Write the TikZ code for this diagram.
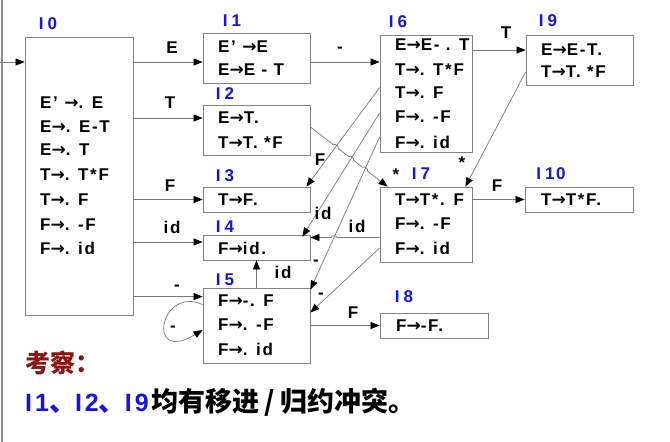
\documentclass[tikz,border=0pt]{standalone}
\usepackage{fontspec}
\setmainfont{Liberation Sans}[LetterSpace=10]
\newfontfamily\arrfont{DejaVu Sans}
\newfontfamily\cjkfont{Noto Sans CJK SC}
\newfontfamily\latfont{Liberation Sans}
\newcommand\ra{{\arrfont\bfseries →}}
\usetikzlibrary{arrows.meta,calc,intersections}
\definecolor{lineg}{RGB}{120,120,120}
\definecolor{boxg}{RGB}{130,130,130}
\definecolor{lblue}{RGB}{20,20,230}
\definecolor{dred}{RGB}{140,20,20}
\begin{document}
\begin{tikzpicture}[x=1pt,y=-1pt,
 box/.style={draw=boxg, line width=0.8pt, inner sep=0pt},
 item/.style={anchor=west, font=\bfseries\fontsize{17}{17}\selectfont, inner sep=0pt},
 lab/.style={font=\bfseries\fontsize{17}{17}\selectfont, text=lblue, inner sep=0pt},
 elab/.style={font=\bfseries\fontsize{17}{17}\selectfont, inner sep=0pt},
 arr/.style={draw=lineg, line width=0.7pt, -{Triangle[length=9pt,width=7pt,color=black]}}]
\fill[white] (0,0) rectangle (670,442);
\useasboundingbox (0,0) rectangle (670,442);
\draw[black!45, line width=1.5pt] (2,0) -- (2,442);

% boxes
\node[box, minimum width=108pt, minimum height=278pt] (I0) at (79,176) {};
\node[box, minimum width=107pt, minimum height=50pt] (I1) at (256.5,58) {};
\node[box, minimum width=107pt, minimum height=50pt] (I2) at (256.5,130) {};
\node[box, minimum width=107pt, minimum height=25pt] (I3) at (256.5,199.5) {};
\node[box, minimum width=107pt, minimum height=25pt] (I4) at (256.5,247.5) {};
\node[box, minimum width=107pt, minimum height=75pt] (I5) at (256.5,325.5) {};
\node[box, minimum width=92pt, minimum height=117pt] (I6) at (426,93.5) {};
\node[box, minimum width=107pt, minimum height=50pt] (I9) at (579.5,60) {};
\node[box, minimum width=92pt, minimum height=75pt] (I7) at (426,224.5) {};
\node[box, minimum width=108pt, minimum height=25pt] (I10) at (579,199.5) {};
\node[box, minimum width=108pt, minimum height=25pt] (I8) at (434,325.5) {};

% box labels
\node[lab] (n0) at (48,24) {I\kern4pt0};
\node[lab] (n1) at (232,21) {I\kern4pt1};
\node[lab] (n2) at (225,94) {I\kern4pt2};
\node[lab] (n3) at (225,176) {I\kern4pt3};
\node[lab] (n4) at (225,227) {I\kern4pt4};
\node[lab] (n5) at (225,280) {I\kern4pt5};
\node[lab] (n6) at (398,22) {I\kern4pt6};
\node[lab] (n9) at (548,21) {I\kern4pt9};
\node[lab] (n7) at (421,174) {I\kern4pt7};
\node[lab] (n10) at (551,174) {I\kern4pt10};
\node[lab] (n8) at (404,297) {I\kern4pt8};

% items
\foreach \t/\y [count=\k] in {E' \ra. E/103, E\ra. E-T/127, E\ra. T/150, T\ra. T*F/175, T\ra. F/200, F\ra. -F/225, F\ra. id/248}
  \node[item] (a0\k) at (40,\y) {\t};
\node[item] (a11) at (218,47) {E' \ra E};
\node[item] (a12) at (218,70) {E\ra E - T};
\node[item] (a21) at (218,118) {E\ra T.};
\node[item] (a22) at (218,143) {T\ra T. *F};
\node[item] (a31) at (218,200) {T\ra F.};
\node[item] (a41) at (218,248) {F\ra id.};
\node[item] (a51) at (218,301) {F\ra -. F};
\node[item] (a52) at (218,325) {F\ra. -F};
\node[item] (a53) at (218,349) {F\ra. id};
\foreach \t/\y [count=\k] in {E\ra E- . T/45, T\ra. T*F/70, T\ra. F/93, F\ra. -F/117, F\ra. id/142}
  \node[item] (a6\k) at (395,\y) {\t};
\node[item] (a91) at (541,50) {E\ra E-T.};
\node[item] (a92) at (541,72) {T\ra T. *F};
\node[item] (a71) at (395,200) {T\ra T*. F};
\node[item] (a72) at (395,224) {F\ra. -F};
\node[item] (a73) at (395,248) {F\ra. id};
\node[item] (a101) at (541,200) {T\ra T*F.};
\node[item] (a81) at (396,326) {F\ra -F.};

% entry arrow
\coordinate (entry) at (0,62);
\draw[arr] (entry) -- (entry -| I0.west);

% arrows from I0
\coordinate (I1in) at ([yshift=-4pt]I1.west);
\draw[arr] (I0.east |- I1in) -- (I1in);
\coordinate (I2in) at ([yshift=12pt]I2.west);
\draw[arr] (I0.east |- I2in) -- (I2in);
\draw[arr] (I0.east |- I3.west) -- (I3.west);
\coordinate (I4in) at ([yshift=5.5pt]I4.west);
\draw[arr] (I0.east |- I4in) -- (I4in);
\coordinate (I5in) at ([yshift=-9pt]I5.north west);
\draw[arr] (I0.east |- I5in) -- (I5in);
% self loop
\draw[arr] ([yshift=-17pt]I5.north west) .. controls (160,285) and (145,365) .. ([yshift=-4.5pt]I5.west);
% I5 -> I4
\draw[arr] (I5.north) -- (I4.south);
% I1 -> I6
\draw[arr] (I1.east |- I1in) -- (I1in -| I6.west);
% I6 -> I9
\coordinate (I9in) at ([yshift=10pt]I9.west);
\draw[arr] (I6.east |- I9in) -- (I9in);
% I9 -> I7
\draw[arr] ([yshift=-12pt]I9.west) -- ([xshift=-7pt]I7.north east);
% I7 -> I10
\draw[arr] (I7.east |- I10.west) -- (I10.west);
% I5 -> I8
\draw[arr] (I5.east |- I8.west) -- (I8.west);
% I6 -> I3, I4, I5
\draw[arr, name path=l63] ([yshift=6pt]I6.west) -- ([xshift=-4pt]I3.north east);
\draw[arr, name path=l64] ([yshift=-19.5pt]I6.west) -- ([xshift=-8pt,yshift=-2pt]I4.north east);
\draw[arr, name path=l65] ([yshift=-43.5pt]I6.west) -- ([yshift=-2pt]I5.north east);
% I2 -> I7 with hops
\coordinate (I2o) at ([yshift=3pt]I2.east);
\coordinate (I7i) at ([xshift=8pt]I7.north west);
\path[name path=l27] (I2o) -- (I7i);
\path[name intersections={of=l27 and l63, by=c1}];
\path[name intersections={of=l27 and l64, by=c2}];
\path[name intersections={of=l27 and l65, by=c3}];
\draw[arr] (I2o) -- ($(c1)!3pt!(I2o)$) to[bend left=90] ($(c1)!3pt!(I7i)$)
  -- ($(c2)!3pt!(I2o)$) to[bend left=90] ($(c2)!3pt!(I7i)$)
  -- ($(c3)!3pt!(I2o)$) to[bend left=90] ($(c3)!3pt!(I7i)$) -- (I7i);
% I7 -> I4 with hop
\coordinate (I4r) at ([yshift=10pt]I4.east);
\coordinate (I7l) at (I7.west |- I4r);
\path[name path=l74] (I7l) -- (I4r);
\path[name intersections={of=l74 and l65, by=c4}];
\draw[arr] (I7l) -- ($(c4)!3pt!(I7l)$) to[bend right=90] ($(c4)!3pt!(I4r)$) -- (I4r);
% I7 -> I5
\draw[arr] ([yshift=-23.5pt]I7.west) -- ([yshift=13pt]I5.east);

% edge labels
\node[elab] (eE) at (172,48) {E};
\node[elab] (eT) at (170,103) {T};
\node[elab] (eF) at (170,186) {F};
\node[elab] (eid) at (172,227) {id};
\node[elab] (em) at (177,288) {-};
\node[elab] (eloop) at (173,329) {-};
\node[elab] (e54) at (283,272) {id};
\node[elab] (e16) at (340,50) {-};
\node[elab] (e69) at (506,33) {T};
\node[elab] (e97) at (462,163) {*};
\node[elab] (e27) at (396,175) {*};
\node[elab] (e710) at (497,186) {F};
\node[elab] (e63) at (320,160) {F};
\node[elab] (e64) at (323,213) {id};
\node[elab] (e74) at (357,226) {id};
\node[elab] (e65) at (316,263) {-};
\node[elab] (e75) at (321,296) {-};
\node[elab] (e58) at (353,313) {F};

% bottom text
\node[anchor=west, inner sep=0pt, font=\cjkfont\bfseries\fontsize{25}{25}\selectfont, text=dred] (kc) at (25,363) {考察：};
\node[anchor=west, inner sep=0pt, font=\cjkfont\bfseries\fontsize{27}{27}\selectfont] (concl) at (25,402) {\textcolor{lblue}{{\latfont\fontsize{25}{25}\selectfont I\kern3pt1}、\kern-1pt{\latfont\fontsize{25}{25}\selectfont I\kern3pt2}、\kern-1pt{\latfont\fontsize{25}{25}\selectfont I\kern3pt9}}\kern3pt 均有移进\kern5pt/\kern5pt 归约冲突。};
\end{tikzpicture}
\end{document}
